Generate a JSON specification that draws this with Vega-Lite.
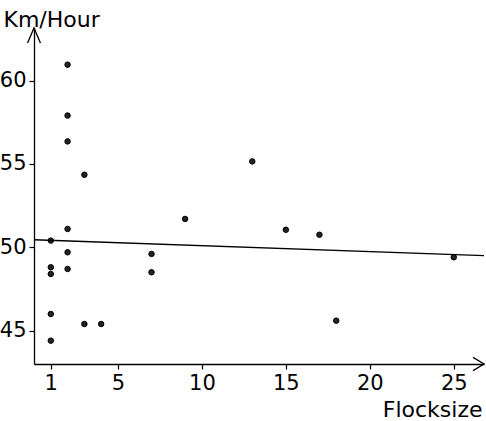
{
  "$schema": "https://vega.github.io/schema/vega-lite/v6.json",
  "autosize": "none",
  "width": 450,
  "height": 336,
  "padding": {"left": 34, "top": 28, "right": 2, "bottom": 57},
  "background": "white",
  "config": {
    "view": {"stroke": null},
    "axis": {
      "grid": false,
      "domainColor": "black",
      "domainWidth": 1.3,
      "tickColor": "black",
      "tickWidth": 1.2,
      "tickSize": 5,
      "labelFont": "DejaVu Sans",
      "labelFontSize": 21,
      "labelColor": "black",
      "titleFont": "DejaVu Sans",
      "titleFontSize": 22,
      "titleFontWeight": "normal",
      "titleColor": "black"
    }
  },
  "datasets": {
    "birds": [
      {"flocksize": 1, "speed": 50.4},
      {"flocksize": 1, "speed": 48.8},
      {"flocksize": 1, "speed": 48.4},
      {"flocksize": 1, "speed": 46.0},
      {"flocksize": 1, "speed": 44.4},
      {"flocksize": 2, "speed": 60.95},
      {"flocksize": 2, "speed": 57.9},
      {"flocksize": 2, "speed": 56.35},
      {"flocksize": 2, "speed": 51.1},
      {"flocksize": 2, "speed": 49.7},
      {"flocksize": 2, "speed": 48.7},
      {"flocksize": 3, "speed": 54.35},
      {"flocksize": 3, "speed": 45.4},
      {"flocksize": 4, "speed": 45.4},
      {"flocksize": 7, "speed": 49.6},
      {"flocksize": 7, "speed": 48.5},
      {"flocksize": 9, "speed": 51.7},
      {"flocksize": 13, "speed": 55.15},
      {"flocksize": 15, "speed": 51.05},
      {"flocksize": 17, "speed": 50.75},
      {"flocksize": 18, "speed": 45.6},
      {"flocksize": 25, "speed": 49.4}
    ],
    "fit": [
      {"flocksize": 0, "speed": 50.45},
      {"flocksize": 26.8, "speed": 49.5}
    ],
    "xarrow": [{"flocksize": 26.8, "speed": 43}],
    "yarrow": [{"flocksize": 0, "speed": 63.15}]
  },
  "layer": [
    {
      "data": {"name": "birds"},
      "mark": {"type": "point", "filled": true, "size": 30, "color": "#222222", "stroke": "black", "strokeWidth": 1, "opacity": 1},
      "encoding": {
        "x": {
          "field": "flocksize", "type": "quantitative",
          "scale": {"domain": [0, 26.8], "nice": false, "zero": false},
          "axis": {
            "values": [1, 5, 10, 15, 20, 25],
            "labelPadding": 3,
            "title": "Flocksize",
            "titleAlign": "right",
            "titleAnchor": null,
            "titleX": 448,
            "titleY": 52,
            "titleBaseline": "alphabetic"
          }
        },
        "y": {
          "field": "speed", "type": "quantitative",
          "scale": {"domain": [43, 63.15], "nice": false, "zero": false},
          "axis": {
            "values": [45, 50, 55, 60],
            "labelPadding": 3,
            "title": "Km/Hour",
            "titleAngle": 0,
            "titleAlign": "left",
            "titleAnchor": null,
            "titleX": -31,
            "titleY": -2,
            "titleBaseline": "alphabetic"
          }
        }
      }
    },
    {
      "data": {"name": "fit"},
      "mark": {"type": "line", "color": "black", "strokeWidth": 1.3},
      "encoding": {
        "x": {"field": "flocksize", "type": "quantitative"},
        "y": {"field": "speed", "type": "quantitative"}
      }
    },
    {
      "data": {"name": "xarrow"},
      "mark": {"type": "point", "shape": "M-1,-0.6L0,0L-1,0.6", "size": 484, "filled": false, "stroke": "black", "strokeWidth": 1.3, "opacity": 1},
      "encoding": {
        "x": {"field": "flocksize", "type": "quantitative"},
        "y": {"field": "speed", "type": "quantitative"}
      }
    },
    {
      "data": {"name": "yarrow"},
      "mark": {"type": "point", "shape": "M-0.43,1L0,0L0.43,1", "size": 900, "filled": false, "stroke": "black", "strokeWidth": 1.3, "opacity": 1},
      "encoding": {
        "x": {"field": "flocksize", "type": "quantitative"},
        "y": {"field": "speed", "type": "quantitative"}
      }
    }
  ]
}
